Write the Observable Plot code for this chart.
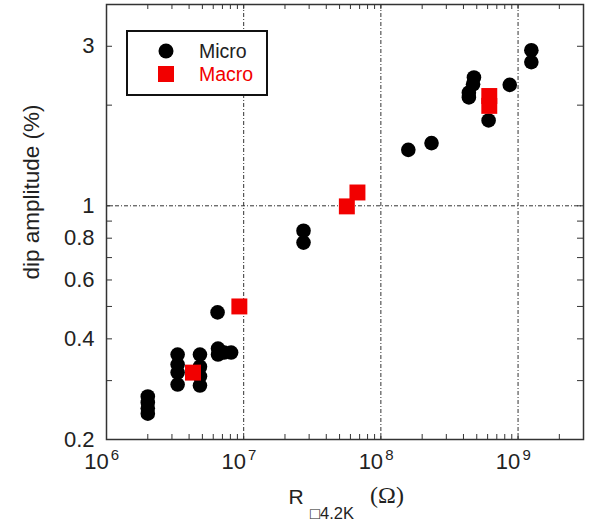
<!DOCTYPE html>
<html>
<head>
<meta charset="utf-8">
<script src="https://cdn.jsdelivr.net/npm/d3@7"></script>
<script src="https://cdn.jsdelivr.net/npm/@observablehq/plot@0.6"></script>
<style>
  html, body { margin: 0; padding: 0; background: #fff; }
  svg { display: block; }
</style>
</head>
<body>
<div id="chart"></div>
<script>
// ---- data ----
const microX = [2e6, 2e6, 2e6, 2e6,
                3.3e6, 3.3e6, 3.3e6, 3.3e6,
                4.8e6, 4.8e6, 4.8e6, 4.8e6,
                6.5e6, 6.5e6, 7.2e6, 8.1e6, 6.45e6,
                2.73e7, 2.73e7,
                1.585e8, 2.34e8,
                4.77e8, 4.7e8, 4.38e8, 4.38e8, 6.1e8, 8.7e8,
                1.25e9, 1.25e9];
const microY = [0.269, 0.258, 0.248, 0.239,
                0.359, 0.335, 0.317, 0.292,
                0.359, 0.33, 0.309, 0.29,
                0.374, 0.359, 0.364, 0.364, 0.48,
                0.842, 0.776,
                1.47, 1.54,
                2.42, 2.31, 2.18, 2.11, 1.80, 2.30,
                2.92, 2.69];
const macroX = [4.27e6, 9.3e6, 5.65e7, 6.75e7, 6.17e8, 6.17e8];
const macroY = [0.317, 0.5, 0.996, 1.096, 2.13, 1.99];

const seriesNames = ["Micro", "Macro"];
const seriesColors = ["#000000", "#f20000"];

const xDecades = [1e6, 1e7, 1e8, 1e9];
const xExponents = ["6", "7", "8", "9"];
const xMinorTicks = [2e6,3e6,4e6,5e6,6e6,7e6,8e6,9e6,
                     1e7,2e7,3e7,4e7,5e7,6e7,7e7,8e7,9e7,
                     1e8,2e8,3e8,4e8,5e8,6e8,7e8,8e8,9e8,
                     1e9,2e9];
const gridX = [1e7, 1e8, 1e9];
const gridY = [1];
const yTicks = [0.3,0.4,0.5,0.6,0.7,0.8,0.9,1,2,3];
const yLabels = [0.2, 0.4, 0.6, 0.8, 1, 3];
const xTitle = ["R", "\u25A14.2K", "(\u03A9)"];
const yTitle = "dip amplitude (%)";

const micro = microX.map((x, i) => ({x, y: microY[i]}));
const macro = macroX.map((x, i) => ({x, y: macroY[i]}));

// ---- layout ----
const W = 598, H = 522;
const mL = 106, mR = 15, mT = 4, mB = 83;
const fw = W - mL - mR, fh = H - mT - mB;
const sans = "'Liberation Sans', Arial, Helvetica, sans-serif";
const ink = "#222";
const tick = 5;
const dash = "4,2,1,2";

const chart = Plot.plot({
  width: W, height: H,
  marginLeft: mL, marginRight: mR, marginTop: mT, marginBottom: mB,
  style: {fontFamily: sans, color: ink, background: "#fff"},
  x: {type: "log", domain: [1e6, 3e9], axis: null},
  y: {type: "log", domain: [0.2, 4], axis: null},
  marks: [
    Plot.ruleX(gridX, {x: d => d, stroke: "#333", strokeWidth: 1, strokeDasharray: dash}),
    Plot.ruleY(gridY, {y: d => d, stroke: "#333", strokeWidth: 1, strokeDasharray: dash}),
    // inward ticks, bottom & top
    Plot.tickX(xMinorTicks, {x: d => d, insetTop: fh - tick, stroke: "#333", strokeWidth: 1}),
    Plot.tickX(xMinorTicks, {x: d => d, insetBottom: fh - tick, stroke: "#333", strokeWidth: 1}),
    // inward ticks, left & right
    Plot.tickY(yTicks, {y: d => d, insetRight: fw - tick - 1, stroke: "#333", strokeWidth: 1}),
    Plot.tickY(yTicks, {y: d => d, insetLeft: fw - tick - 1, stroke: "#333", strokeWidth: 1}),
    Plot.frame({stroke: "#333", strokeWidth: 1.5}),
    // y tick labels
    Plot.text(yLabels, {y: d => d, text: d => String(d), frameAnchor: "left", textAnchor: "end",
      dx: -12, dy: 0, fontSize: 22, fill: ink}),
    // x tick labels 10^n
    Plot.text(xDecades, {x: d => d, text: () => "10", frameAnchor: "bottom", dx: -10, dy: 29,
      fontSize: 22, fill: ink}),
    Plot.text(xDecades, {x: d => d, text: (d, i) => xExponents[i], frameAnchor: "bottom", dx: 8.5, dy: 20,
      fontSize: 15, fill: ink}),
    // x title
    Plot.text([xTitle[0]], {text: d => d, frameAnchor: "bottom", textAnchor: "middle", dx: -49, dy: 64,
      fontSize: 21, fill: ink}),
    Plot.text([xTitle[1]], {text: d => d, frameAnchor: "bottom", textAnchor: "start", dx: -35, dy: 79,
      fontSize: 16.5, fill: ink}),
    Plot.text([xTitle[2]], {text: d => d, frameAnchor: "bottom", textAnchor: "middle", dx: 42, dy: 63,
      fontSize: 24, fill: ink, fontFamily: "'Liberation Serif', 'Times New Roman', serif"}),
    // y title
    Plot.text([yTitle], {text: d => d, frameAnchor: "left", textAnchor: "middle", rotate: -90,
      dx: -75, dy: -30, fontSize: 22.5, fill: ink}),
    // data
    Plot.dot(micro, {x: "x", y: "y", r: 7.3, fill: seriesColors[0], stroke: "none"}),
    Plot.dot(macro, {x: "x", y: "y", r: 9, symbol: "square", fill: seriesColors[1], stroke: "none"})
  ]
});

// ---- legend box (inside the frame, upper-left) ----
const svg = d3.select(chart);
const lg = svg.append("g").attr("transform", "translate(127,31)");
lg.append("rect").attr("width", 140).attr("height", 64)
  .attr("fill", "#fff").attr("stroke", "#111").attr("stroke-width", 2);
seriesNames.forEach((name, i) => {
  const cy = 20 + i * 23;
  if (i === 0) {
    lg.append("circle").attr("cx", 39).attr("cy", cy).attr("r", 7.5).attr("fill", seriesColors[0]);
  } else {
    lg.append("rect").attr("x", 31).attr("y", cy - 8).attr("width", 16).attr("height", 16)
      .attr("fill", seriesColors[1]);
  }
  lg.append("text").attr("x", 72).attr("y", cy).attr("dy", "0.36em")
    .attr("text-anchor", "start")
    .style("font-size", "19.5px").style("font-family", sans)
    .attr("fill", i === 0 ? ink : seriesColors[1]).text(name);
});

document.getElementById("chart").appendChild(chart);
</script>
</body>
</html>
